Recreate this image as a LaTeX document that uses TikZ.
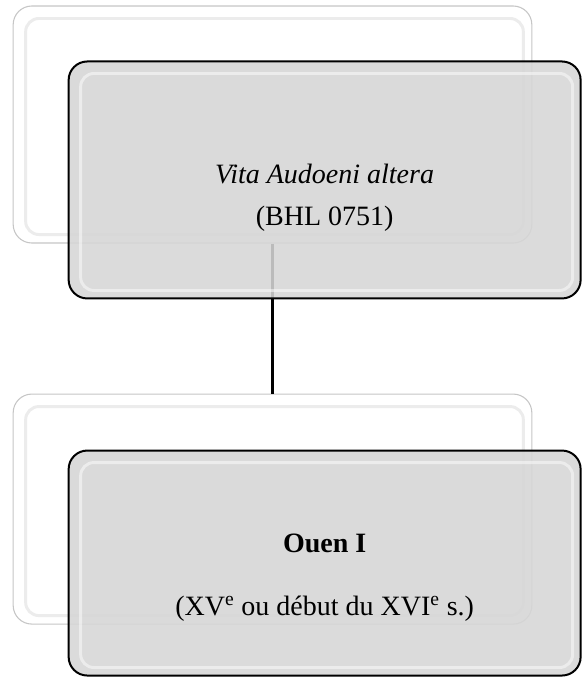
\documentclass[tikz,border=0pt]{standalone}
\usepackage{fontspec}
\setmainfont{Liberation Serif}
\usetikzlibrary{positioning}

\begin{document}
\begin{tikzpicture}[
  x=0.75pt, y=0.75pt,
  back/.style={rectangle, draw=gray!45, line width=0.8pt, fill=white, rounded corners=14pt,
    minimum width=389pt, inner sep=0pt},
  front/.style={rectangle, draw=black, line width=1.5pt, fill=black!16, fill opacity=0.88,
    rounded corners=14pt, minimum width=384pt, inner sep=0pt},
  gloss/.style={draw=white, line width=2.2pt, opacity=0.5, rounded corners=10pt},
  txt/.style={align=center, font=\fontsize{21}{31.5}\selectfont},
  link/.style={draw=black, line width=1.6pt}
]
  \useasboundingbox (0,0) rectangle (582,-678);

  % back layer
  \node[back, minimum height=177.75pt] (b1) at (272.5,-124.5) {};
  \node[back, minimum height=172.5pt] (b2) [below=112.5pt of b1] {};
  \foreach \n in {b1, b2}
    \draw[gloss, draw=gray!15, opacity=1] ([shift={(13,-13)}]\n.north west) rectangle ([shift={(-9,9)}]\n.south east);

  % connector, partly under the front box
  \draw[link] (b1.south) -- (b2.north);

  % front layer placed against the back boxes
  \node[front, minimum height=177.75pt] (f1) [below right=41.25pt and 41.25pt of b1.north west, anchor=north west] {};
  \node[front, minimum height=168.75pt] (f2) [below right=42pt and 41.25pt of b2.north west, anchor=north west] {};
  \foreach \n in {f1, f2}
    \draw[gloss] ([shift={(13,-13)}]\n.north west) rectangle ([shift={(-9,9)}]\n.south east);

  % texts
  \node[txt] (t1) at ([yshift=-13]f1.center) {\textit{Vita Audoeni altera}\\(BHL 0751)};
  \node[txt] (t2) at ([yshift=-11]f2.center) {\textbf{Ouen I}\\[16pt](XV\textsuperscript{e} ou début du XVI\textsuperscript{e} s.)};
\end{tikzpicture}
\end{document}
